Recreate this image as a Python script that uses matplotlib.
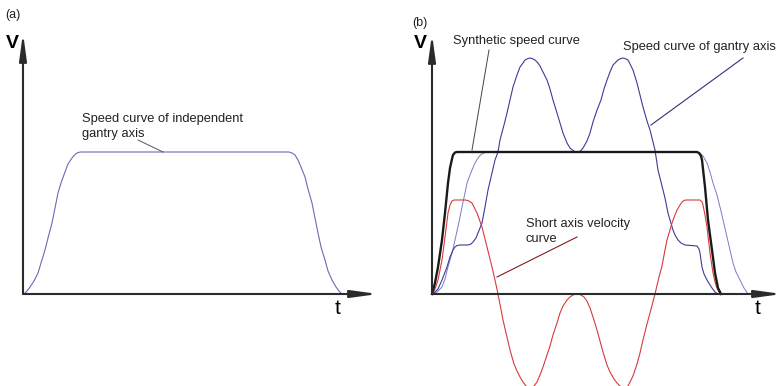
import matplotlib.pyplot as plt

plt.rcParams['font.family'] = ['Liberation Sans', 'DejaVu Sans']

# (a) speed curve of the independent gantry axis
t_a = [1, 4, 7, 11, 15, 18, 22, 25, 29, 32, 35, 38, 42, 45, 49, 52, 55, 58,
       266, 269, 272, 275, 278, 282, 285, 289, 292, 295, 298, 302, 305, 309, 313, 316, 319]
v_a = [0, 3, 7, 13, 21, 31, 44, 56, 71, 86, 101, 111, 122, 130, 136, 139.5, 141.5, 142,
       142, 141, 139, 134, 127, 117, 105, 91, 76, 61, 47, 34, 23, 14, 7, 3, 0]

# (b) synthetic speed curve
t_syn = [0, 3, 6, 10, 13, 16, 18, 20, 21, 23, 25, 265, 267, 269, 270, 273, 276, 280, 283, 286, 289]
v_syn = [0, 11, 27, 54, 81, 111, 126, 135, 139, 141.5, 142, 142, 141, 138, 134, 107, 74, 44, 21, 6, 0]

# (b) short axis velocity curve
t_short = [0, 3, 6, 10, 13, 16, 18, 20, 22, 33, 36, 40, 45, 50, 55, 60, 63, 66,
           71, 78, 82, 85, 88, 91, 94, 96, 98, 100, 102, 105, 108, 111, 115, 118,
           121, 125, 128, 131, 135, 138, 141, 143, 145, 147, 149, 152, 155, 158,
           161, 165, 168, 171, 175, 178, 182, 185, 188, 190, 192, 194, 196, 198,
           201, 205, 208, 211, 215, 218, 223, 227, 230, 233, 235, 238, 240, 243,
           245, 248, 250, 252, 254, 268, 270, 271, 273, 275, 278, 281, 283, 285, 288]
v_short = [0, 5, 14, 34, 57, 81, 89, 93, 94, 94, 93.5, 91, 81, 67, 47, 27, 14, 0,
           -26, -56, -70, -77, -83, -88, -92, -93, -94, -93.5, -92, -88, -81, -73, -61, -52,
           -41, -29, -19, -12, -6, -3, -1, -0.3, 0, -0.3, -1, -3, -7, -14,
           -23, -36, -47, -58, -71, -78, -85, -89, -92, -93.5, -94, -93.5, -92, -88,
           -82, -70, -59, -46, -30, -19, 0, 17, 28, 44, 54, 64, 71, 79,
           84, 89, 92, 93.5, 94, 94, 92, 89, 79, 67, 41, 21, 12, 6, 0]

# (b) speed curve of gantry axis
t_gantry = [0, 3, 6, 10, 15, 18, 21, 23, 25, 28, 36, 39, 41, 44, 46, 48, 50, 53, 56,
            60, 63, 66, 68, 72, 75, 78, 81, 85, 88, 91, 93, 96, 98, 100, 103, 106,
            108, 111, 115, 118, 121, 125, 128, 131, 135, 138, 141, 143, 145, 147,
            149, 151, 155, 158, 161, 165, 169, 172, 175, 178, 181, 184, 186, 189,
            191, 193, 196, 198, 201, 205, 208, 211, 215, 218, 221, 223, 226, 229,
            231, 233, 236, 238, 241, 243, 246, 249, 253, 265, 267, 268, 270, 272,
            275, 278, 280, 283, 286]
v_gantry = [0, 2, 5, 14, 27, 37, 44, 47, 48.5, 49, 49, 50, 52, 56, 61, 66, 71, 87, 104,
            121, 134, 142, 154, 169, 181, 194, 207, 219, 227, 231, 234, 235.5, 236, 235.5, 234, 231,
            228, 222, 214, 205, 194, 181, 171, 161, 151, 146, 143.5, 142.3, 142, 142.3,
            143.5, 146, 153, 161, 172, 184, 194, 205, 214, 222, 229, 232, 234, 235.5,
            236, 235.5, 234, 230, 224, 211, 199, 187, 173, 164, 152, 144, 124, 112,
            104, 96, 81, 74, 64, 59, 54, 51, 49, 48, 45, 41, 27, 20,
            14, 9, 6, 2, 0]

# (b) independent gantry axis (same profile as panel a)
t_indep = [0, 5, 10, 13, 16, 20, 23, 27, 30, 33, 35, 38, 40, 43, 46, 49, 53, 56,
           265, 268, 271, 275, 278, 281, 285, 288, 292, 295, 298, 301, 304, 308, 312, 316]
v_indep = [0, 2, 7, 15, 27, 41, 54, 72, 87, 101, 111, 119, 124, 131, 136, 139.5, 141.5, 142,
           142, 141, 138, 131, 122, 111, 99, 87, 70, 57, 44, 31, 22, 14, 6, 0]

axis_col = '#2b2b2b'
arrow = dict(arrowstyle='-|>,head_length=1.6,head_width=0.22', lw=1.5,
             color=axis_col, shrinkA=0, shrinkB=0, mutation_scale=10)

fig = plt.figure(figsize=(7.83, 3.86), dpi=100)

# panel (a)
ax_a = fig.add_axes([0, 0, 1, 1])
ax_a.set_xlim(-23, 760)
ax_a.set_ylim(-92, 294)
ax_a.axis('off')
ax_a.plot(t_a, v_a, color='#6a6ab8', lw=0.8)
ax_a.annotate('', xy=(355, 0), xytext=(0, 0), arrowprops=arrow)
ax_a.annotate('', xy=(0, 261), xytext=(0, 0), arrowprops=arrow)
ax_a.text(-18, 279, '(a)', fontsize=9, ha='left', va='center', color='#222')
ax_a.text(-11, 250, 'V', fontsize=14, fontweight='bold', ha='center', va='center')
ax_a.text(315, -14, 't', fontsize=15, ha='center', va='center')
ax_a.text(59, 181, 'Speed curve of independent\ngantry axis', fontsize=9.3,
          ha='left', va='top', linespacing=1.35, color='#222')
ax_a.plot([115, 140], [154, 142], color='#555555', lw=0.7)

# panel (b)
ax_b = fig.add_axes([0, 0, 1, 1])
ax_b.patch.set_alpha(0)
ax_b.set_xlim(-432, 351)
ax_b.set_ylim(-92, 294)
ax_b.axis('off')
ax_b.plot(t_indep, v_indep, color='#7a7ac8', lw=0.7)
ax_b.plot(t_gantry, v_gantry, color='#3c3c98', lw=0.8)
ax_b.plot(t_short, v_short, color='#d83a3a', lw=0.8)
ax_b.plot(t_syn, v_syn, color='#1a1a1a', lw=1.7)
ax_b.annotate('', xy=(350, 0), xytext=(0, 0), arrowprops=arrow)
ax_b.annotate('', xy=(0, 260), xytext=(0, 0), arrowprops=arrow)
ax_b.text(-20, 271, '(b)', fontsize=9, ha='left', va='center', color='#222')
ax_b.text(-12, 250, 'V', fontsize=14, fontweight='bold', ha='center', va='center')
ax_b.text(326, -14, 't', fontsize=15, ha='center', va='center')
ax_b.text(21, 253, 'Synthetic speed curve', fontsize=9.3, ha='left', va='center', color='#222')
ax_b.plot([57, 40], [244, 144], color='#444444', lw=0.7)
ax_b.text(191, 247, 'Speed curve of gantry axis', fontsize=9.3, ha='left', va='center', color='#222')
ax_b.plot([311, 219], [236, 169], color='#303080', lw=0.8)
ax_b.text(94, 76, 'Short axis velocity\ncurve', fontsize=9.3, ha='left', va='top',
          linespacing=1.35, color='#222')
ax_b.plot([145, 65], [57, 17], color='#8b1a1a', lw=0.8)

fig.savefig('out.png', dpi=100)
